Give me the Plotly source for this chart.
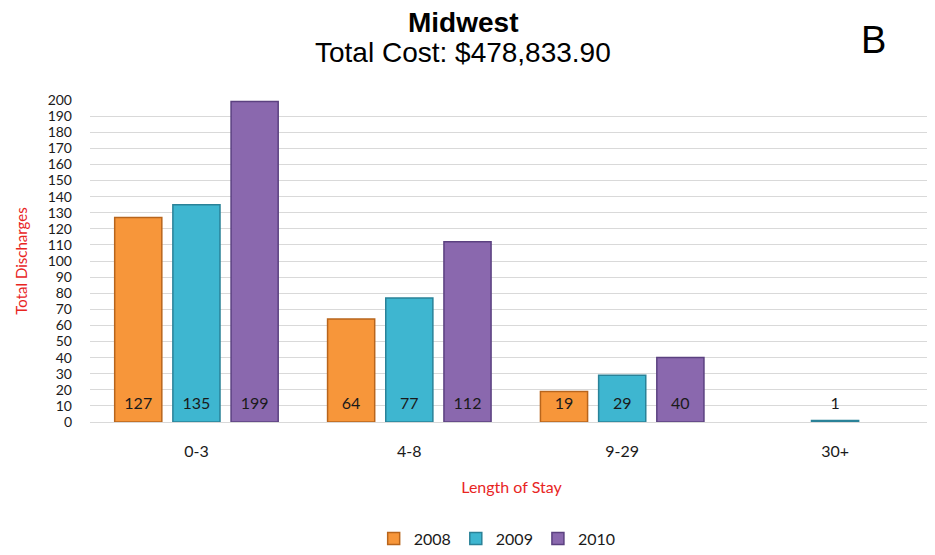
import plotly.graph_objects as go

categories = ["0-3", "4-8", "9-29", "30+"]
years = ["2008", "2009", "2010"]
values_2008 = [127, 64, 19, None]
values_2009 = [135, 77, 29, 1]
values_2010 = [199, 112, 40, None]
series = [values_2008, values_2009, values_2010]
y_ticks = list(range(0, 201, 10))

fills = ["#F7963A", "#3EB6D0", "#8A68AE"]
edges = ["#B8651C", "#2A8298", "#5B4180"]

label_y = 10.5
gap = 0.18
FONT = "Lato, Carlito, sans-serif"

fig = go.Figure()
for yr, vals, fc, ec in zip(years, series, fills, edges):
    fig.add_trace(go.Bar(
        x=categories, y=vals, name=yr, offsetgroup=yr,
        marker=dict(color=fc, line=dict(color=ec, width=1.5)),
        hoverinfo="skip",
    ))
for yr, vals in zip(years, series):
    fig.add_trace(go.Scatter(
        x=categories, y=[label_y if v is not None else None for v in vals],
        text=[str(v) if v is not None else "" for v in vals],
        mode="text", offsetgroup=yr, showlegend=False,
        textfont=dict(family=FONT, size=16, color="#1a1a1a"),
        hoverinfo="skip",
    ))

fig.update_layout(
    width=927, height=547,
    paper_bgcolor="white", plot_bgcolor="white",
    margin=dict(l=82, r=2, t=92, b=133, autoexpand=False),
    barmode="group", bargap=gap, bargroupgap=0.19,
    scattermode="group", scattergap=gap,
    xaxis=dict(
        range=[-0.5, 3.46],
        showgrid=False, showline=False, ticks="", automargin=False,
        ticklabelstandoff=18,
        tickfont=dict(family=FONT, size=16, color="#1a1a1a"),
        title=dict(text="Length of Stay", standoff=22,
                   font=dict(family=FONT, size=16, color="#E8251F")),
    ),
    yaxis=dict(
        range=[0, 200], tickvals=y_ticks, ticktext=[str(t) for t in y_ticks],
        showgrid=True, gridcolor="#D9D9D9", gridwidth=1,
        zeroline=True, zerolinecolor="#D9D9D9", zerolinewidth=1,
        showline=False, ticks="", automargin=False, ticklabelstandoff=17,
        tickfont=dict(family=FONT, size=14, color="#1a1a1a"),
        title=dict(text="Total Discharges", standoff=16,
                   font=dict(family=FONT, size=15, color="#E8251F")),
    ),
    legend=dict(
        orientation="h", x=0.483, xanchor="center", yref="container",
        y=0.03, yanchor="middle",
        font=dict(family=FONT, size=16, color="#1a1a1a"),
        traceorder="normal", itemwidth=30,
    ),
    annotations=[
        dict(text="<b>Midwest</b>", xref="paper", yref="paper", x=0.4425, y=1.242,
             xanchor="center", yanchor="middle", showarrow=False,
             font=dict(family="Liberation Sans, Arial, sans-serif", size=28, color="black")),
        dict(text="Total Cost: $478,833.90", xref="paper", yref="paper", x=0.4425, y=1.149,
             xanchor="center", yanchor="middle", showarrow=False,
             font=dict(family="Liberation Sans, Arial, sans-serif", size=28, color="black")),
        dict(text="B", xref="paper", yref="paper", x=0.929, y=1.186,
             xanchor="center", yanchor="middle", showarrow=False,
             font=dict(family="Liberation Sans, Arial, sans-serif", size=38, color="black")),
    ],
)

fig.write_html("out.html")
